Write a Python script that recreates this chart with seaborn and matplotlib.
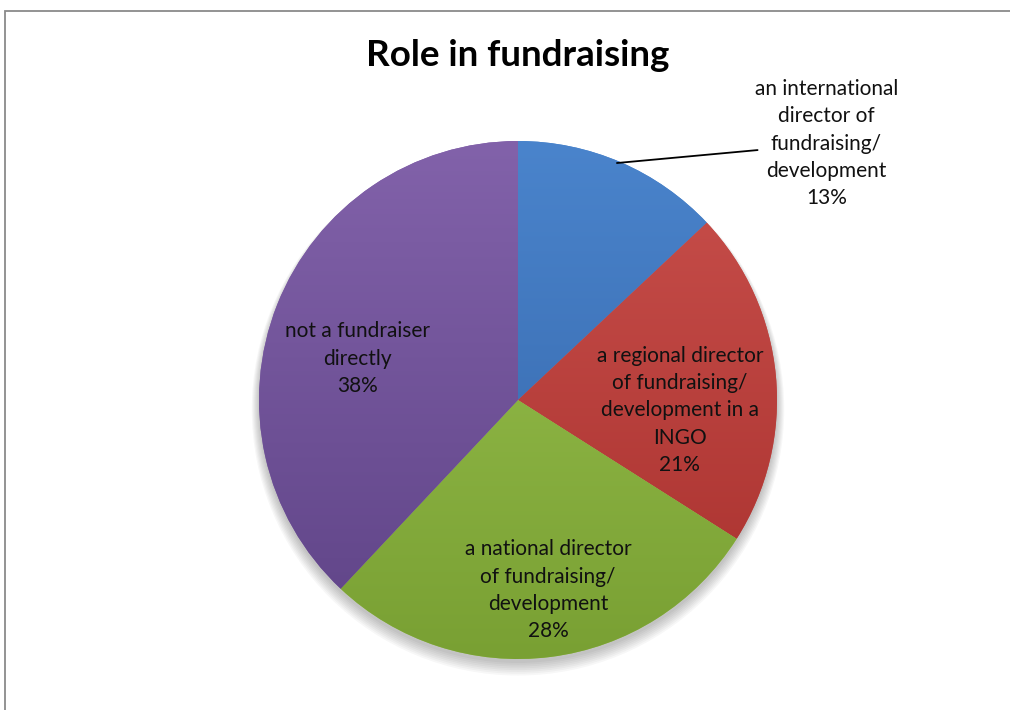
import numpy as np
import matplotlib
matplotlib.use("Agg")
import matplotlib.pyplot as plt
import matplotlib.colors as mcolors
from matplotlib.patches import Rectangle, Circle
import seaborn as sns

sns.set_theme(style="white")
plt.rcParams["font.family"] = ["Lato", "DejaVu Sans"]

# Chart data
roles = [
    "an international\ndirector of\nfundraising/\ndevelopment",
    "a regional director\nof fundraising/\ndevelopment in a\nINGO",
    "a national director\nof fundraising/\ndevelopment",
    "not a fundraiser\ndirectly",
]
shares = [13, 21, 28, 38]

# Slice shading: light (top) and dark (bottom) tone for each slice
light_tones = ["#4a84cc", "#c9504c", "#9cc451", "#8262aa"]
dark_tones = ["#3363a6", "#a8302d", "#79a033", "#5e4386"]

# Label placement in pie units (radius = 1)
label_xy = [(1.19, 0.99), (0.625, -0.04), (0.116, -0.735), (-0.62, 0.16)]
leader = ((0.382, 0.915), (0.925, 0.965))

W, H = 1010, 710
fig = plt.figure(figsize=(W / 100, H / 100), dpi=100)
fig.patch.set_facecolor("white")

# Chart frame
fig.add_artist(Rectangle((5 / W, -0.05), 1.1, (H - 11) / H + 0.05,
                         transform=fig.transFigure, fill=False,
                         edgecolor="#8a8a8a", linewidth=1.3))

cx, cy, r = 518, 400, 259
ax = fig.add_axes([(cx - r) / W, (H - cy - r) / H, 2 * r / W, 2 * r / H])

wedges, _ = ax.pie(shares, startangle=90, counterclock=False, radius=1.0,
                   colors=light_tones,
                   wedgeprops=dict(edgecolor="none", linewidth=0))
ax.set_aspect("equal")
ax.axis("off")

# Soft drop shadow under the pie
for k in range(8):
    ax.add_patch(Circle((0, -0.015 - 0.003 * k), 1.0 + 0.004 * k,
                        facecolor="black", alpha=0.03, edgecolor="none",
                        zorder=0, clip_on=False))

yy = np.linspace(0, 1, 256).reshape(-1, 1)
for w, lt, dk in zip(wedges, light_tones, dark_tones):
    cmap = mcolors.LinearSegmentedColormap.from_list("s", [lt, dk])
    grad = np.repeat(yy, 2, axis=1)
    im = ax.imshow(grad, cmap=cmap, extent=[-1, 1, -1, 1], origin="upper",
                   aspect="auto", zorder=2, interpolation="bilinear")
    im.set_clip_path(w)
    w.set_zorder(1)
ax.set_xlim(-1, 1)
ax.set_ylim(-1, 1)

for (lx, ly), name, v in zip(label_xy, roles, shares):
    ax.text(lx, ly, f"{name}\n{v}%", ha="center", va="center",
            fontsize=15, color="#111111", linespacing=1.46, zorder=5)

ax.plot([leader[0][0], leader[1][0]], [leader[0][1], leader[1][1]],
        color="black", linewidth=1.3, zorder=4, clip_on=False)

fig.text(518 / W, 1 - 55 / H, "Role in fundraising", ha="center",
         va="center", fontsize=26.5, fontweight="bold", color="black")

fig.savefig("out.png", dpi=100, facecolor="white")
